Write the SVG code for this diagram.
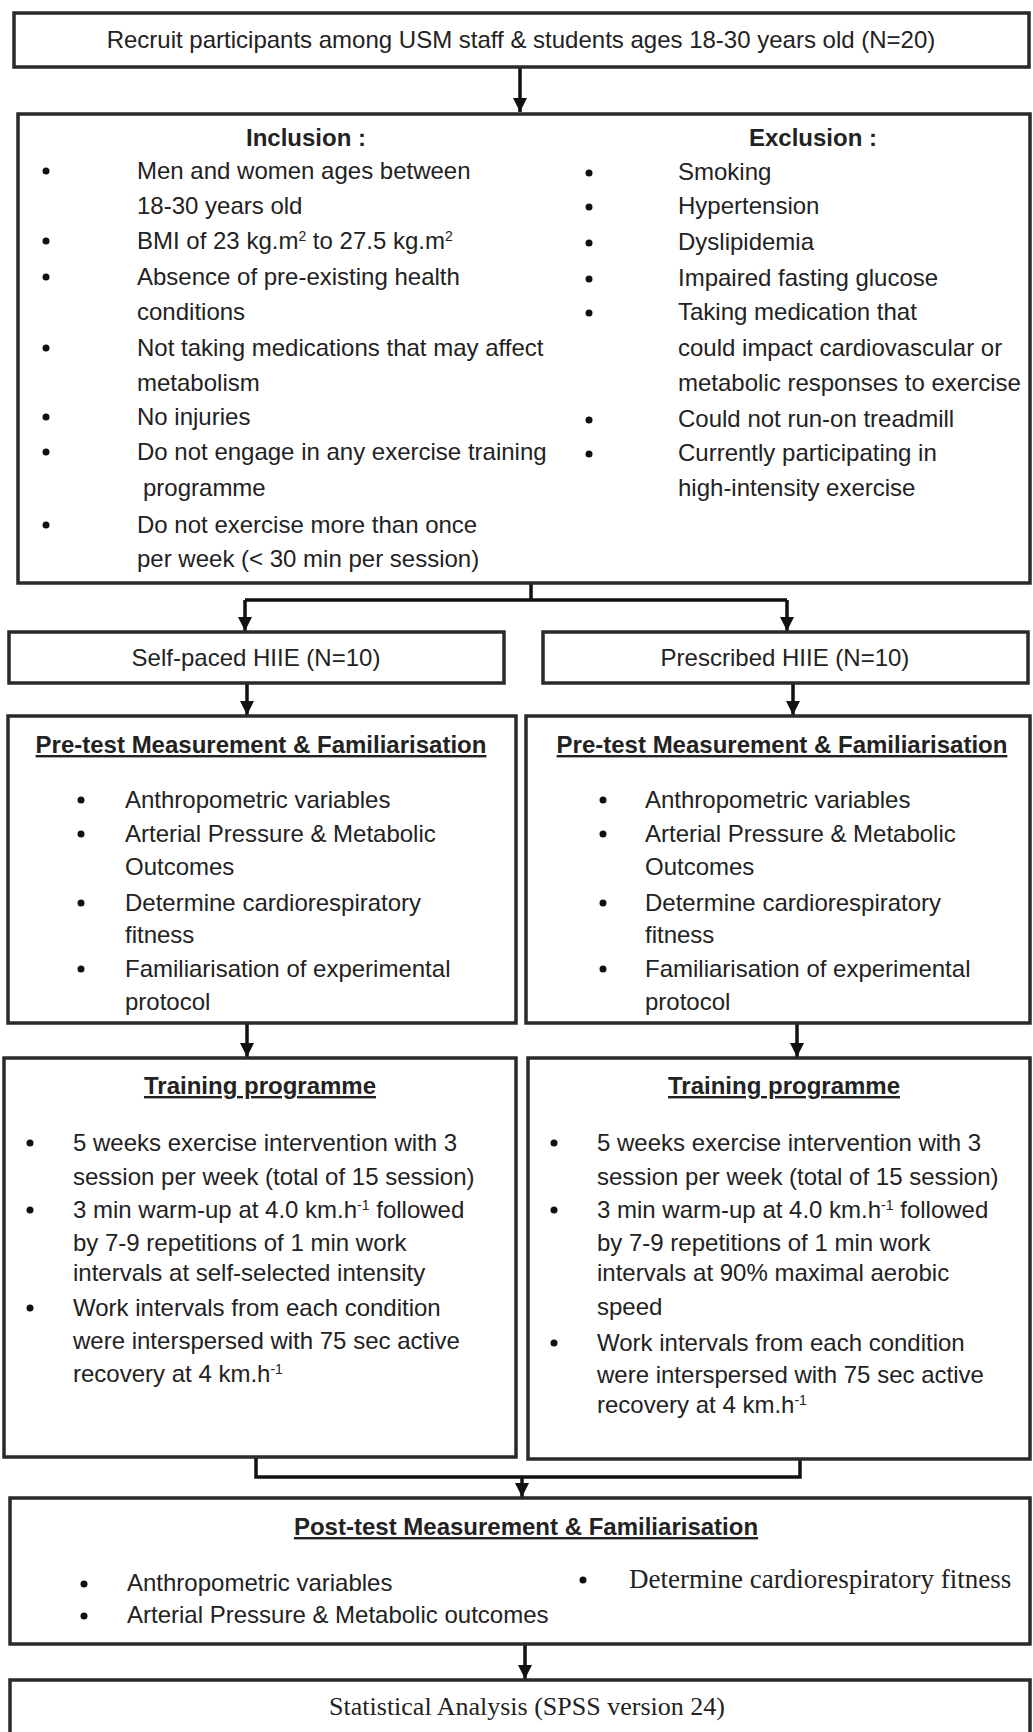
<svg xmlns="http://www.w3.org/2000/svg" width="1033" height="1732" viewBox="0 0 1033 1732">
<defs>
<style>
.box{fill:#fff;stroke:#2a2a2a;stroke-width:3.5}
.t{font-family:"Liberation Sans",Arial,sans-serif;font-size:24px;fill:#222}
.c{text-anchor:middle}
.h{font-weight:bold;text-decoration:underline}
.b{font-weight:bold}
.s{font-family:"Liberation Serif","Times New Roman",serif;font-size:26px;fill:#222}
.s2{font-size:27px}
.sup{font-size:14px}
.bul{fill:#111}
.con{fill:none;stroke:#111;stroke-width:3.5}
</style>
<marker id="ah" viewBox="0 0 10 10" refX="10" refY="5" markerWidth="4.5" markerHeight="4" orient="auto" markerUnits="strokeWidth">
<path d="M0,0 L10,5 L0,10 Z" fill="#111"/>
</marker>
</defs>
<rect width="1033" height="1732" fill="#fff"/>

<g id="connectors">
<line class="con" x1="520" y1="67" x2="520" y2="112" marker-end="url(#ah)"/>
<path class="con" d="M531,583 V600 M245,600 H787"/>
<line class="con" x1="245" y1="600" x2="245" y2="631" marker-end="url(#ah)"/>
<line class="con" x1="787" y1="600" x2="787" y2="631" marker-end="url(#ah)"/>
<line class="con" x1="247" y1="683" x2="247" y2="715" marker-end="url(#ah)"/>
<line class="con" x1="793" y1="683" x2="793" y2="715" marker-end="url(#ah)"/>
<line class="con" x1="247" y1="1023" x2="247" y2="1057" marker-end="url(#ah)"/>
<line class="con" x1="797" y1="1023" x2="797" y2="1057" marker-end="url(#ah)"/>
<path class="con" d="M256,1457 V1477 H800 V1459"/>
<line class="con" x1="522" y1="1477" x2="522" y2="1497" marker-end="url(#ah)"/>
<line class="con" x1="525" y1="1644" x2="525" y2="1679" marker-end="url(#ah)"/>
</g>

<g id="recruit">
<rect class="box" x="14" y="13" width="1015" height="54"/>
<text class="t c" x="521" y="48">Recruit participants among USM staff &amp; students ages 18-30 years old (N=20)</text>
</g>

<g id="criteria">
<rect class="box" x="18" y="114" width="1012" height="469"/>
<text class="t c b" x="306" y="146">Inclusion :</text>
<text class="t c b" x="813" y="146">Exclusion :</text>
<g class="bul">
<circle cx="46" cy="171" r="3.5"/>
<circle cx="46" cy="241" r="3.5"/>
<circle cx="46" cy="277" r="3.5"/>
<circle cx="46" cy="348" r="3.5"/>
<circle cx="46" cy="417" r="3.5"/>
<circle cx="46" cy="452" r="3.5"/>
<circle cx="46" cy="525" r="3.5"/>
<circle cx="589" cy="173" r="3.5"/>
<circle cx="589" cy="207" r="3.5"/>
<circle cx="589" cy="243" r="3.5"/>
<circle cx="589" cy="279" r="3.5"/>
<circle cx="589" cy="313" r="3.5"/>
<circle cx="589" cy="420" r="3.5"/>
<circle cx="589" cy="454" r="3.5"/>
</g>
<text class="t" x="137" y="179">Men and women ages between</text>
<text class="t" x="137" y="214">18-30 years old</text>
<text class="t" x="137" y="249">BMI of 23 kg.m<tspan class="sup" baseline-shift="super">2</tspan> to 27.5 kg.m<tspan class="sup" baseline-shift="super">2</tspan></text>
<text class="t" x="137" y="285">Absence of pre-existing health</text>
<text class="t" x="137" y="320">conditions</text>
<text class="t" x="137" y="356">Not taking medications that may affect</text>
<text class="t" x="137" y="391">metabolism</text>
<text class="t" x="137" y="425">No injuries</text>
<text class="t" x="137" y="460">Do not engage in any exercise training</text>
<text class="t" x="143" y="496">programme</text>
<text class="t" x="137" y="533">Do not exercise more than once</text>
<text class="t" x="137" y="567">per week (&lt; 30 min per session)</text>
<text class="t" x="678" y="180">Smoking</text>
<text class="t" x="678" y="214">Hypertension</text>
<text class="t" x="678" y="250">Dyslipidemia</text>
<text class="t" x="678" y="286">Impaired fasting glucose</text>
<text class="t" x="678" y="320">Taking medication that</text>
<text class="t" x="678" y="356">could impact cardiovascular or</text>
<text class="t" x="678" y="391">metabolic responses to exercise</text>
<text class="t" x="678" y="427">Could not run-on treadmill</text>
<text class="t" x="678" y="461">Currently participating in</text>
<text class="t" x="678" y="496">high-intensity exercise</text>
</g>

<g id="self-paced">
<rect class="box" x="9" y="632" width="495" height="51"/>
<text class="t c" x="256" y="666">Self-paced HIIE (N=10)</text>
</g>

<g id="prescribed">
<rect class="box" x="543" y="632" width="485" height="51"/>
<text class="t c" x="785" y="666">Prescribed HIIE (N=10)</text>
</g>

<g id="pretest-left">
<rect class="box" x="8" y="716" width="508" height="307"/>
<text class="t c h" x="261" y="753">Pre-test Measurement &amp; Familiarisation</text>
<g class="bul">
<circle cx="81" cy="800" r="3.5"/>
<circle cx="81" cy="834" r="3.5"/>
<circle cx="81" cy="903" r="3.5"/>
<circle cx="81" cy="969" r="3.5"/>
</g>
<text class="t" x="125" y="808">Anthropometric variables</text>
<text class="t" x="125" y="842">Arterial Pressure &amp; Metabolic</text>
<text class="t" x="125" y="875">Outcomes</text>
<text class="t" x="125" y="911">Determine cardiorespiratory</text>
<text class="t" x="125" y="943">fitness</text>
<text class="t" x="125" y="977">Familiarisation of experimental</text>
<text class="t" x="125" y="1010">protocol</text>
</g>

<g id="pretest-right">
<rect class="box" x="526" y="716" width="504" height="307"/>
<text class="t c h" x="782" y="753">Pre-test Measurement &amp; Familiarisation</text>
<g class="bul">
<circle cx="603" cy="800" r="3.5"/>
<circle cx="603" cy="834" r="3.5"/>
<circle cx="603" cy="903" r="3.5"/>
<circle cx="603" cy="969" r="3.5"/>
</g>
<text class="t" x="645" y="808">Anthropometric variables</text>
<text class="t" x="645" y="842">Arterial Pressure &amp; Metabolic</text>
<text class="t" x="645" y="875">Outcomes</text>
<text class="t" x="645" y="911">Determine cardiorespiratory</text>
<text class="t" x="645" y="943">fitness</text>
<text class="t" x="645" y="977">Familiarisation of experimental</text>
<text class="t" x="645" y="1010">protocol</text>
</g>

<g id="training-left">
<rect class="box" x="4" y="1058" width="512" height="399"/>
<text class="t c h" x="260" y="1094">Training programme</text>
<g class="bul">
<circle cx="30" cy="1143" r="3.5"/>
<circle cx="30" cy="1210" r="3.5"/>
<circle cx="30" cy="1308" r="3.5"/>
</g>
<text class="t" x="73" y="1151">5 weeks exercise intervention with 3</text>
<text class="t" x="73" y="1185">session per week (total of 15 session)</text>
<text class="t" x="73" y="1218">3 min warm-up at 4.0 km.h<tspan class="sup" baseline-shift="super">-1</tspan> followed</text>
<text class="t" x="73" y="1251">by 7-9 repetitions of 1 min work</text>
<text class="t" x="73" y="1281">intervals at self-selected intensity</text>
<text class="t" x="73" y="1316">Work intervals from each condition</text>
<text class="t" x="73" y="1349">were interspersed with 75 sec active</text>
<text class="t" x="73" y="1382">recovery at 4 km.h<tspan class="sup" baseline-shift="super">-1</tspan></text>
</g>

<g id="training-right">
<rect class="box" x="528" y="1058" width="502" height="401"/>
<text class="t c h" x="784" y="1094">Training programme</text>
<g class="bul">
<circle cx="554" cy="1143" r="3.5"/>
<circle cx="554" cy="1210" r="3.5"/>
<circle cx="554" cy="1343" r="3.5"/>
</g>
<text class="t" x="597" y="1151">5 weeks exercise intervention with 3</text>
<text class="t" x="597" y="1185">session per week (total of 15 session)</text>
<text class="t" x="597" y="1218">3 min warm-up at 4.0 km.h<tspan class="sup" baseline-shift="super">-1</tspan> followed</text>
<text class="t" x="597" y="1251">by 7-9 repetitions of 1 min work</text>
<text class="t" x="597" y="1281">intervals at 90% maximal aerobic</text>
<text class="t" x="597" y="1315">speed</text>
<text class="t" x="597" y="1351">Work intervals from each condition</text>
<text class="t" x="597" y="1383">were interspersed with 75 sec active</text>
<text class="t" x="597" y="1413">recovery at 4 km.h<tspan class="sup" baseline-shift="super">-1</tspan></text>
</g>

<g id="posttest">
<rect class="box" x="10" y="1498" width="1020" height="146"/>
<text class="t c h" x="526" y="1535">Post-test Measurement &amp; Familiarisation</text>
<g class="bul">
<circle cx="84" cy="1584" r="3.5"/>
<circle cx="84" cy="1616" r="3.5"/>
<circle cx="583" cy="1580" r="3.5"/>
</g>
<text class="t" x="127" y="1591">Anthropometric variables</text>
<text class="t" x="127" y="1623">Arterial Pressure &amp; Metabolic outcomes</text>
<text class="s s2" x="629" y="1588">Determine cardiorespiratory fitness</text>
</g>

<g id="statistics">
<rect class="box" x="10" y="1680" width="1020" height="70"/>
<text class="s c" x="527" y="1715">Statistical Analysis (SPSS version 24)</text>
</g>
</svg>
